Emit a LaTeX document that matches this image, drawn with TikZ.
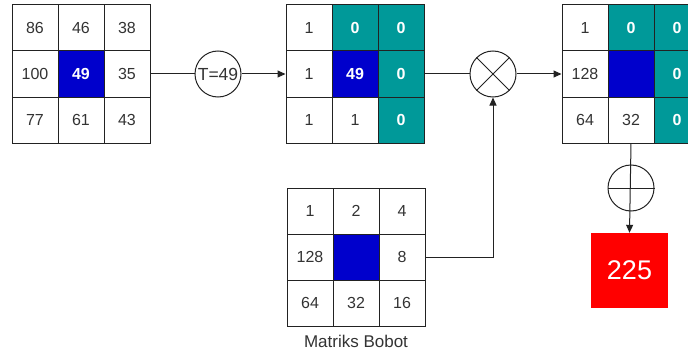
\documentclass[tikz,border=0pt]{standalone}
\usepackage{fontspec}
\setmainfont{Liberation Sans}
\usetikzlibrary{arrows.meta}
\definecolor{cblue}{RGB}{0,0,204}
\definecolor{cteal}{RGB}{0,153,153}
\definecolor{cred}{RGB}{255,0,0}
\definecolor{ctext}{RGB}{51,51,51}
\definecolor{cline}{RGB}{34,34,34}
\tikzset{
  cell/.style={draw=cline, line width=1pt, minimum size=46pt, inner sep=0pt, text=ctext, font=\fontsize{16}{18}\selectfont},
  bluecell/.style={cell, fill=cblue, text=white, font=\fontsize{16}{18}\selectfont\bfseries},
  tealcell/.style={cell, fill=cteal, text=white, font=\fontsize{16}{18}\selectfont\bfseries},
  op/.style={circle, draw=cline, line width=1pt, minimum size=46pt, inner sep=0pt, text=ctext, font=\fontsize{17.5}{19}\selectfont},
  conn/.style={draw=cline, line width=1pt},
  arr/.style={conn, -{Triangle[length=8pt,width=7pt]}}
}
\begin{document}
\begin{tikzpicture}[x=1pt, y=-1pt]
\useasboundingbox (0,0) rectangle (688,353);
\clip (0,0) rectangle (688,353);
% matrix 1
\node[cell] (a11) at (35,28) {86};
\node[cell] (a12) at (81,28) {46};
\node[cell] (a13) at (127,28) {38};
\node[cell] (a21) at (35,74) {100};
\node[bluecell] (a22) at (81,74) {49};
\node[cell] (a23) at (127,74) {35};
\node[cell] (a31) at (35,120) {77};
\node[cell] (a32) at (81,120) {61};
\node[cell] (a33) at (127,120) {43};
% threshold
\node[op] (t) at (218,74) {T=49};
% matrix 2
\node[cell] (b11) at (309,28) {1};
\node[tealcell] (b12) at (355,28) {0};
\node[tealcell] (b13) at (401,28) {0};
\node[cell] (b21) at (309,74) {1};
\node[bluecell] (b22) at (355,74) {49};
\node[tealcell] (b23) at (401,74) {0};
\node[cell] (b31) at (309,120) {1};
\node[cell] (b32) at (355,120) {1};
\node[tealcell] (b33) at (401,120) {0};
% multiply
\node[op] (mul) at (493,74) {};
\draw[conn] (mul.45) -- (mul.225) (mul.135) -- (mul.315);
% matrix 3
\node[cell] (c11) at (585,28) {1};
\node[tealcell] (c12) at (631,28) {0};
\node[tealcell] (c13) at (677,28) {0};
\node[cell] (c21) at (585,74) {128};
\node[bluecell] (c22) at (631,74) {};
\node[tealcell] (c23) at (677,74) {0};
\node[cell] (c31) at (585,120) {64};
\node[cell] (c32) at (631,120) {32};
\node[tealcell] (c33) at (677,120) {0};
% weight matrix
\node[cell] (d11) at (310,211) {1};
\node[cell] (d12) at (356,211) {2};
\node[cell] (d13) at (402,211) {4};
\node[cell] (d21) at (310,257) {128};
\node[bluecell] (d22) at (356,257) {};
\node[cell] (d23) at (402,257) {8};
\node[cell] (d31) at (310,303) {64};
\node[cell] (d32) at (356,303) {32};
\node[cell] (d33) at (402,303) {16};
\node[text=ctext, font=\fontsize{17}{19}\selectfont] (lbl) at (356,341) {Matriks Bobot};
% sum
\node[op] (sum) at (631,188) {};
\draw[conn] (sum.west) -- (sum.east);
% result
\node[fill=cred, minimum width=77pt, minimum height=75pt, inner sep=0pt, text=white, font=\fontsize{27}{30}\selectfont] (res) at (629.5,270.5) {225};
% connectors
\draw[conn] (a23.east) -- (t.west);
\draw[arr] (t.east) -- (b21.west);
\draw[conn] (b23.east) -- (mul.west);
\draw[arr] (mul.east) -- (c21.west);
\draw[arr] (d23.east) -| (mul.south);
\draw[arr] (c32.south) -- (res.north);
\end{tikzpicture}
\end{document}
